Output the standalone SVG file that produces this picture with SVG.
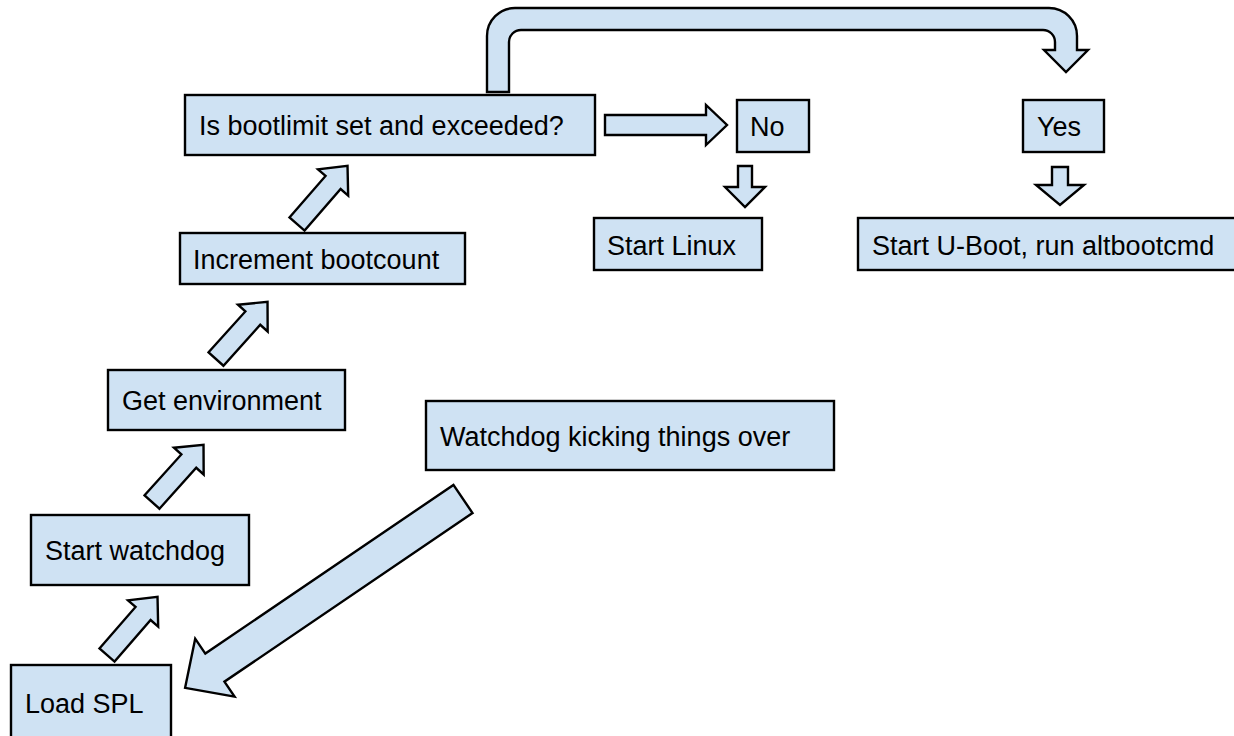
<svg xmlns="http://www.w3.org/2000/svg" width="1234" height="736" viewBox="0 0 1234 736">
<style>
.box{fill:#cfe2f3;stroke:#000;stroke-width:2.4}
.arr{fill:#cfe2f3;stroke:#000;stroke-width:2.4;stroke-linejoin:miter}
text{font-family:"Liberation Sans",Arial,sans-serif;font-size:27px;fill:#000}
</style>
<defs>
<path id="sm" d="M0,-10 L55,-10 L55,-20 L77,0 L55,20 L55,10 L0,10 Z"/>
</defs>
<rect width="1234" height="736" fill="#fff"/>
<g id="connectors">
<path class="arr" d="M487,92 L487,36 A28,28 0 0 1 515,8 L1049,8 A28,28 0 0 1 1077,36 L1077,50 L1088,50 L1066,72 L1044,50 L1055,50 L1055,42 A12,12 0 0 0 1043,30 L521,30 A12,12 0 0 0 509,42 L509,92 Z"/>
<path class="arr" d="M605,115 L706,115 L706,105 L727,125 L706,145 L706,135 L605,135 Z"/>
<path class="arr" d="M738,166 L752,166 L752,187 L765,187 L745,207 L725,187 L738,187 Z"/>
<path class="arr" d="M1052,167 L1068,167 L1068,185 L1084,185 L1060,205 L1036,185 L1052,185 Z"/>
<use href="#sm" class="arr" transform="translate(297,224) rotate(-49)"/>
<use href="#sm" class="arr" transform="translate(216,359) rotate(-48)"/>
<use href="#sm" class="arr" transform="translate(152,502) rotate(-48)"/>
<use href="#sm" class="arr" transform="translate(107,655) rotate(-49)"/>
<path class="arr" transform="translate(463,499) rotate(145.8)" d="M0,-17 L300,-17 L300,-35 L336,0 L300,35 L300,17 L0,17 Z"/>
</g>
<g id="n-bootlimit"><rect class="box" x="185" y="95" width="410" height="60"/><text x="199" y="135">Is bootlimit set and exceeded?</text></g>
<g id="n-no"><rect class="box" x="737" y="100" width="72" height="52"/><text x="750" y="136">No</text></g>
<g id="n-yes"><rect class="box" x="1023" y="100" width="81" height="52"/><text x="1037" y="136">Yes</text></g>
<g id="n-linux"><rect class="box" x="594" y="218" width="168" height="52"/><text x="607" y="255">Start Linux</text></g>
<g id="n-uboot"><rect class="box" x="858" y="218" width="380" height="52"/><text x="872" y="255">Start U-Boot, run altbootcmd</text></g>
<g id="n-increment"><rect class="box" x="180" y="233" width="285" height="51"/><text x="193" y="269">Increment bootcount</text></g>
<g id="n-env"><rect class="box" x="108" y="370" width="237" height="60"/><text x="122" y="410">Get environment</text></g>
<g id="n-watchdogkick"><rect class="box" x="426" y="401" width="408" height="69"/><text x="440" y="446">Watchdog kicking things over</text></g>
<g id="n-startwd"><rect class="box" x="31" y="515" width="218" height="70"/><text x="45" y="560">Start watchdog</text></g>
<g id="n-spl"><rect class="box" x="11" y="665" width="160" height="76"/><text x="25" y="713">Load SPL</text></g>
</svg>
